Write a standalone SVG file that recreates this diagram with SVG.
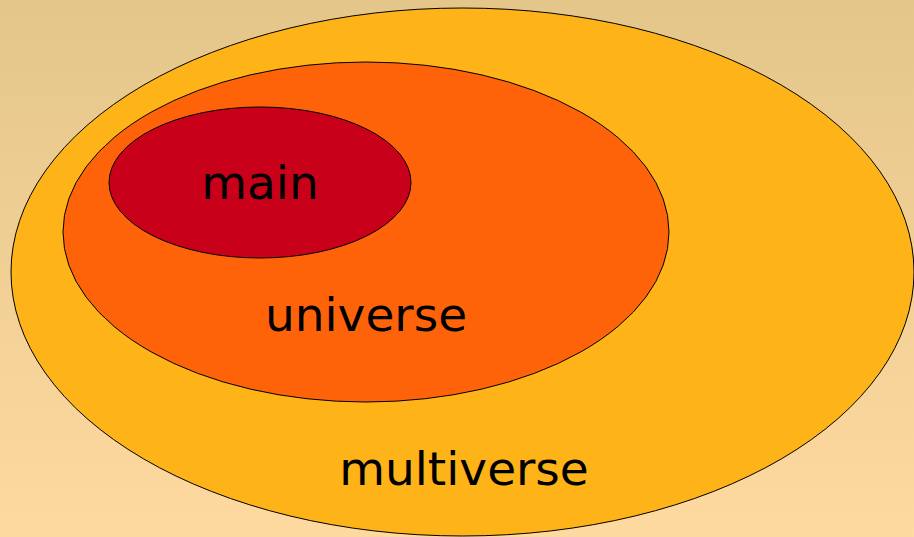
<svg xmlns="http://www.w3.org/2000/svg" width="914" height="537" viewBox="0 0 914 537">
<defs>
<linearGradient id="bg" x1="0" y1="0" x2="0" y2="1">
<stop offset="0" stop-color="#e4c68a"/>
<stop offset="1" stop-color="#fed9a0"/>
</linearGradient>
</defs>
<style>
.e{stroke:#000;stroke-width:1}
.t{font-family:"DejaVu Sans",sans-serif;font-size:47px;fill:#000;text-anchor:middle}
</style>
<rect width="914" height="537" fill="url(#bg)"/>
<g id="multiverse">
<ellipse class="e" cx="462.5" cy="272" rx="451.5" ry="264" fill="#feb318"/>
<text class="t" x="464" y="485">multiverse</text>
</g>
<g id="universe">
<ellipse class="e" cx="366" cy="232" rx="303" ry="170" fill="#fe630a"/>
<text class="t" x="366" y="331">universe</text>
</g>
<g id="main">
<ellipse class="e" cx="260" cy="182.5" rx="151" ry="75.5" fill="#c8001a"/>
<text class="t" x="260" y="199">main</text>
</g>
<g id="connectors"/>
</svg>
